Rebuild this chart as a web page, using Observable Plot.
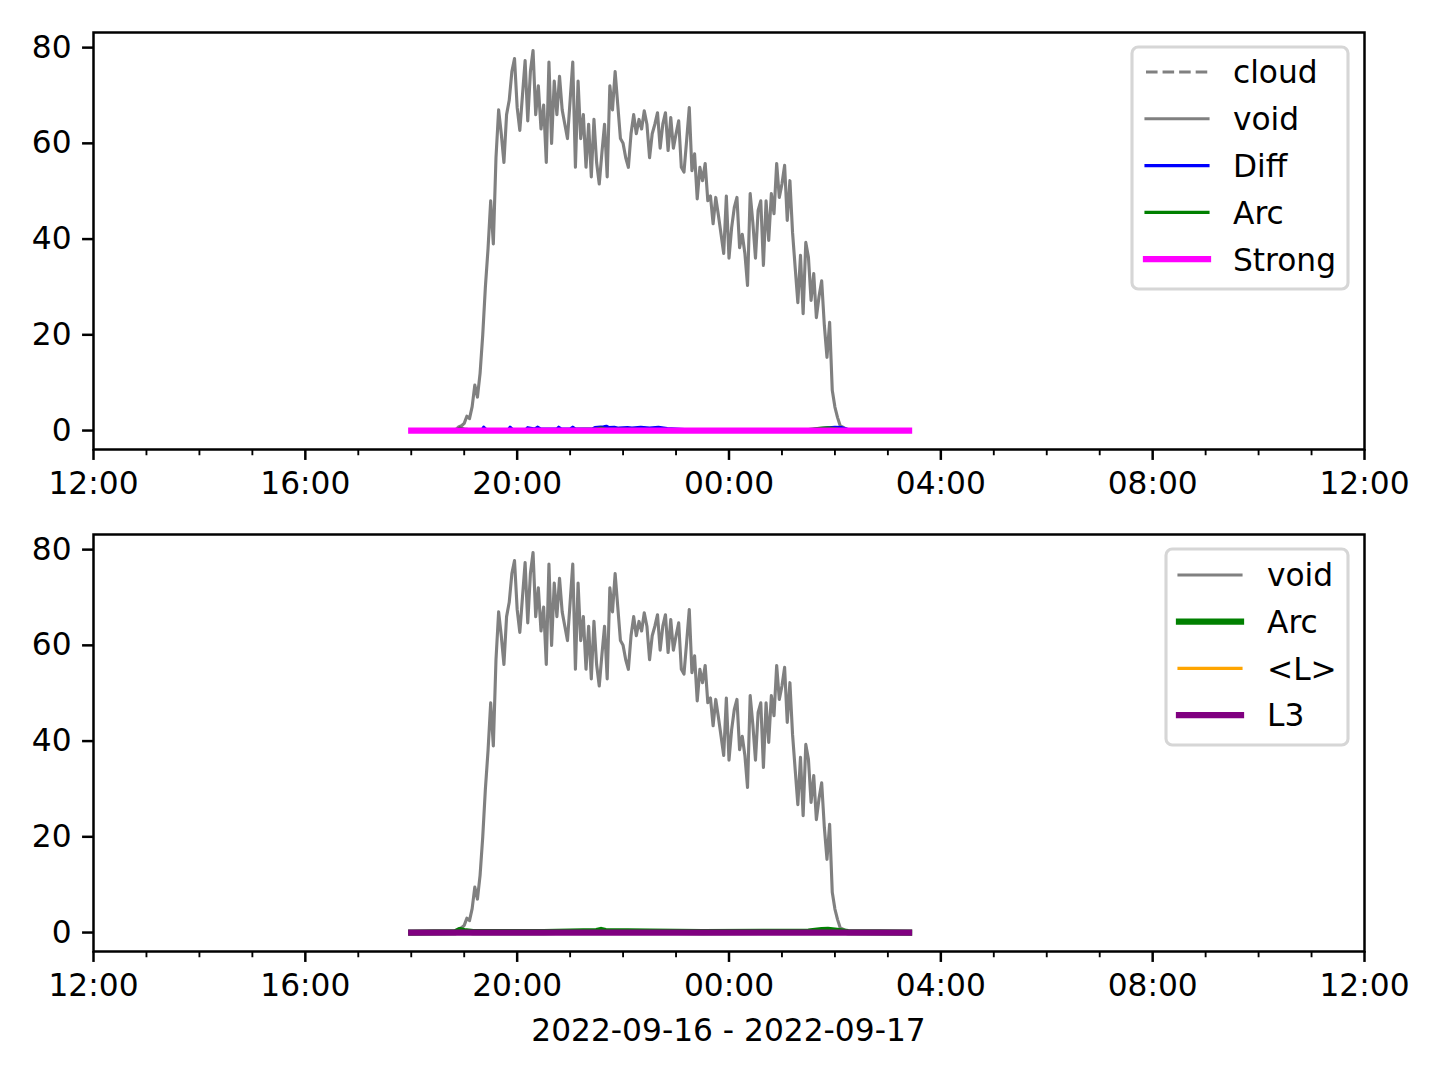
<!DOCTYPE html>
<html><head><meta charset="utf-8">
<script src="https://cdn.jsdelivr.net/npm/d3@7"></script>
<script src="https://cdn.jsdelivr.net/npm/@observablehq/plot@0.6"></script>
<style>
html,body{margin:0;padding:0;background:#fff;overflow:hidden;}
#fig{position:relative;width:1440px;height:1080px;background:#fff;font-family:"DejaVu Sans",sans-serif;}
#fig > div,#fig > svg{position:absolute;left:0;}
</style></head><body><div id="fig"></div>
<script>
// ---------------- data ----------------
const voidStart = "18:00";
const voidStepMinutes = 3;
const voidValues = [
  0,0,0,0,0,0,0,0,0,0,0,0,0,0,0,0,0,
  0.3,0.8,1.0,1.5,3.0,2.5,5,9.5,7,12,20,30,38,48,39,57,67,62,56,66,69,75,77.7,67.5,62.7,70,77.3,64.7,75,79.4,66,
  72,63,68,56,77,60,73,66,74,67,64,61,69,77,55,73,61,66,55,64,53,65,56,51.5,58,64,53,72,67,75,68,61,60,57,55,62,66,
  62,65,63,66.8,64,57,62,64,66.4,59,64,66.4,58.5,65.4,59,62,64.7,55,54,60.6,67.5,54.3,57.8,48.4,55,52.2,55.8,48,49,43.2,48.7,45,41,37,49,36,
  42.4,46.6,48.7,38.2,41,37,30.3,49.5,43.5,36,46,48,34.5,48,39.7,49.5,45.3,55.8,48.7,51.5,55.4,43.9,52.2,41.4,34,26.7,36.6,24.4,39.3,36.2,27.2,32.8,23.6,28,31.3,22,15.3,22.6,8.4,4.9,2.7,1,0.7,0.4,
  0,0,0,0,0,0,0,0,0,0,0,0,0,0,0,0,0,0,0,0,0,0,0,0
];
const cloudTimes = ["18:00","03:24"];
const cloudValues = [0,0];
const diffTimes = ["18:00","19:20","19:22","19:25","19:50","19:52","19:55","20:10","20:12","20:20","20:23","20:27","20:45","20:47","20:50","21:00","21:03","21:06","21:25","21:28","21:38","21:41","21:44","21:50","21:55","22:05","22:10","22:20","22:30","22:40","22:50","23:00","23:20","01:30","01:50","02:00","02:08","02:15","02:30","03:24"];
const diffValues = [0,0.1,0.7,0.2,0.2,0.7,0.2,0.2,0.6,0.3,0.7,0.3,0.3,0.7,0.3,0.3,0.7,0.3,0.3,0.6,0.8,0.9,0.6,0.7,0.5,0.6,0.5,0.7,0.5,0.7,0.4,0.3,0.1,0.1,0.5,0.7,0.6,0.2,0,0];
const arcTimes = ["18:00","18:50","18:55","19:00","19:10","20:30","21:30","21:35","21:40","22:30","23:30","01:30","01:45","01:52","02:00","02:15","03:24"];
const arcValues = [0,0.1,0.5,0.3,0.1,0.1,0.3,0.55,0.3,0.2,0.1,0.2,0.5,0.55,0.4,0.1,0];
const strongTimes = ["18:00","03:24"];
const strongValues = [0,0];
const lAvgTimes = ["18:00","03:24"];
const lAvgValues = [0.05,0.05];
const l3Times = ["18:00","03:24"];
const l3Values = [0,0];

const xTickLabels = ["12:00","16:00","20:00","00:00","04:00","08:00","12:00"];
const yTicks = [0,20,40,60,80];
const xLabel = "2022-09-16 - 2022-09-17";
const topLegend = ["cloud","void","Diff","Arc","Strong"];
const bottomLegend = ["void","Arc","<L>","L3"];

// ---------------- helpers ----------------
const PT = 225/72;            // px per point
const FS = 10*PT;             // font size px
function toDate(s){
  const [h,m] = s.split(":").map(Number);
  return new Date(Date.UTC(2022, 8, h < 12 ? 17 : 16, h, m));
}
const xStart = new Date(Date.UTC(2022,8,16,12,0));
const xEnd = new Date(Date.UTC(2022,8,17,12,0));
const v0 = toDate(voidStart);
const voidData = voidValues.map((v,i)=>({t:new Date(+v0 + i*voidStepMinutes*60000), v}));
const pairs = (ts,vs)=>ts.map((s,i)=>({t:toDate(s), v:vs[i]}));

const majorTicks = xTickLabels.map((s,i)=> i===xTickLabels.length-1 ? xEnd : (i===0 ? xStart : toDate(s)));
const labelMap = new Map(majorTicks.map((d,i)=>[+d, xTickLabels[i]]));
const majorSet = new Set(majorTicks.map(d=>+d));
const minorTicks = d3.utcHour.range(xStart, new Date(+xEnd+1)).filter(d=>!majorSet.has(+d));

const S = {
  cloud:{data:pairs(cloudTimes,cloudValues), color:"#808080", width:PT, dash:`${3.7*PT},${1.6*PT}`, cap:"butt"},
  void:{data:voidData, color:"#808080", width:PT, cap:"square"},
  diff:{data:pairs(diffTimes,diffValues), color:"#0000ff", width:PT, cap:"square"},
  arc:{data:pairs(arcTimes,arcValues), color:"#008000", width:PT, cap:"square"},
  arc2:{data:pairs(arcTimes,arcValues), color:"#008000", width:2*PT, cap:"square"},
  strong:{data:pairs(strongTimes,strongValues), color:"#ff00ff", width:2*PT, cap:"square"},
  lavg:{data:pairs(lAvgTimes,lAvgValues), color:"#ffa500", width:PT, cap:"square"},
  l3:{data:pairs(l3Times,l3Values), color:"#800080", width:2*PT, cap:"square"}
};

function panel(series, height, marginBottom){
  return Plot.plot({
    width:1440, height, marginLeft:93, marginRight:76, marginTop:32, marginBottom,
    style:{fontFamily:"DejaVu Sans", fontSize:`${FS}px`, color:"black", background:"white", overflow:"visible"},
    x:{type:"utc", domain:[xStart,xEnd]},
    y:{domain:[-3.96,83.16]},
    marks:[
      ...series.map(s=>Plot.line(s.data,{x:"t", y:"v", stroke:s.color, strokeWidth:s.width, strokeDasharray:s.dash, strokeLinecap:s.cap, strokeLinejoin:"round"})),
      Plot.axisY({ticks:yTicks, tickSize:3.5*PT, tickPadding:3.5*PT, strokeWidth:0.8*PT, label:null, tickFormat:d=>String(d)}),
      Plot.axisX({ticks:minorTicks, tickSize:2*PT, tickPadding:0, strokeWidth:0.6*PT, label:null, tickFormat:()=>""}),
      Plot.axisX({ticks:majorTicks, tickSize:3.5*PT, tickPadding:11.6, strokeWidth:0.8*PT, label:null, tickFormat:d=>labelMap.get(+d)}),
      Plot.frame({stroke:"black", strokeWidth:0.8*PT})
    ]
  });
}

const fig = document.getElementById("fig");
const top1 = document.createElement("div"); top1.style.top="0px";
top1.appendChild(panel([S.cloud,S.void,S.diff,S.arc,S.strong], 502, 53));
fig.appendChild(top1);
const bot = document.createElement("div"); bot.style.top="502px";
bot.appendChild(panel([S.void,S.arc2,S.lavg,S.l3], 578, 129));
fig.appendChild(bot);

// ---------------- legends & x label (overlay) ----------------
const svg = d3.select(fig).append("svg")
  .attr("width",1440).attr("height",1080)
  .style("top","0px").style("pointer-events","none")
  .style("font-family","DejaVu Sans").style("font-size",`${FS}px`);

function legend(x, y, w, h, rowY0, rowStep, hx1, hx2, tx, labels, styles){
  const g = svg.append("g");
  g.append("rect").attr("x",x).attr("y",y).attr("width",w).attr("height",h)
    .attr("rx",0.2*FS).attr("fill","rgba(255,255,255,0.8)").attr("stroke","#d6d6d6").attr("stroke-width",PT);
  labels.forEach((lab,i)=>{
    const s = styles[i], yy = rowY0 + i*rowStep;
    g.append("line").attr("x1",hx1).attr("x2",hx2).attr("y1",yy).attr("y2",yy)
      .attr("stroke",s.color).attr("stroke-width",s.width)
      .attr("stroke-dasharray",s.dash||null).attr("stroke-linecap",s.cap==="butt"?"butt":"square");
    g.append("text").attr("x",tx).attr("y",yy+11.3).attr("fill","black").text(lab);
  });
}
legend(1132,47,216,242,72,46.8,1146,1208,1233,topLegend,[S.cloud,S.void,S.diff,S.arc,S.strong]);
legend(1166,549,182,196,575,46.7,1179,1241,1267,bottomLegend,[S.void,S.arc2,S.lavg,S.l3]);

svg.append("text").attr("x",728.5).attr("y",1041).attr("text-anchor","middle").attr("fill","black").text(xLabel);
</script>
</body></html>
